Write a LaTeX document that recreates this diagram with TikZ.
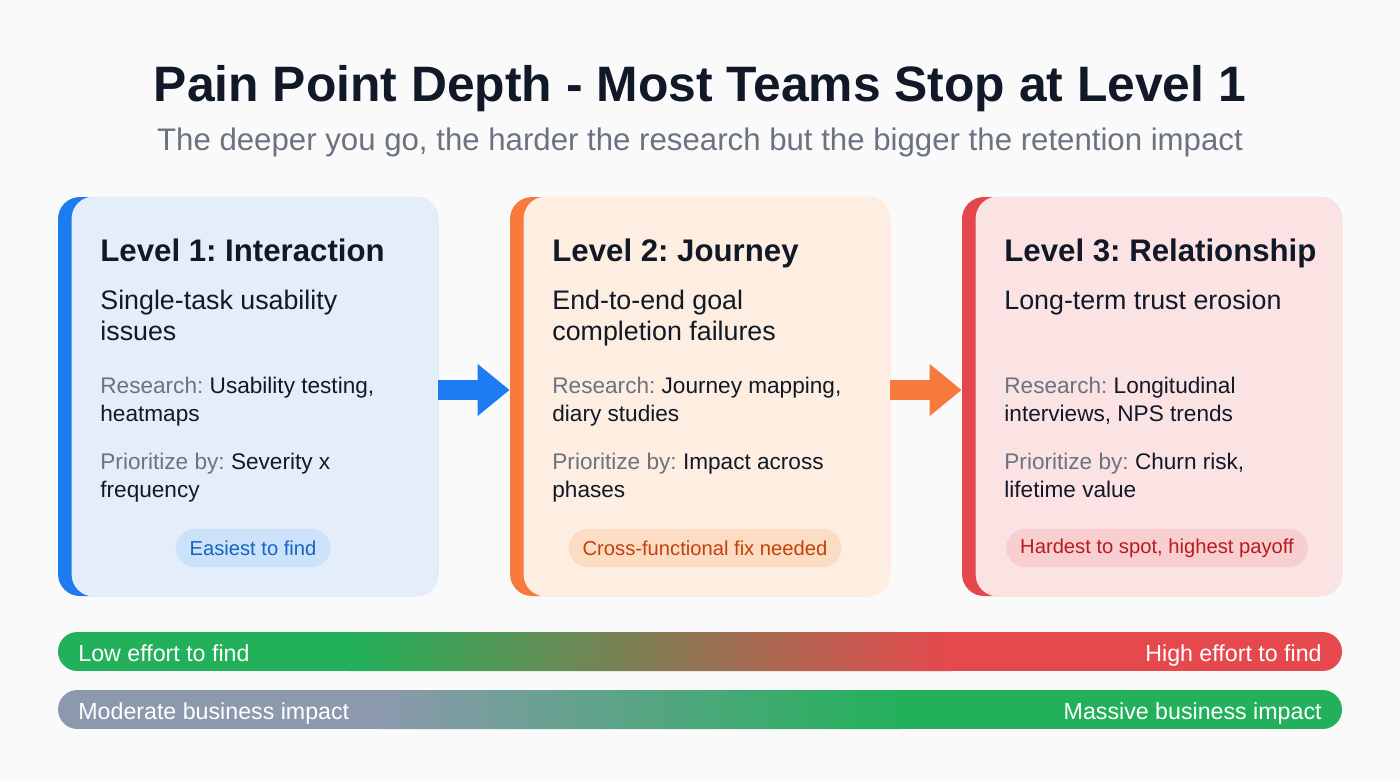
\documentclass[tikz,border=0pt]{standalone}
\usepackage{fontspec}
\setmainfont{Liberation Sans}
\usepackage{tikz}
\usetikzlibrary{arrows.meta, calc}
\frenchspacing

\definecolor{bg}{HTML}{FAFAFA}
\definecolor{ink}{HTML}{111827}
\definecolor{subgray}{HTML}{6B7280}
\definecolor{blueacc}{HTML}{1E7CF2}
\definecolor{bluecard}{HTML}{E4EEFB}
\definecolor{bluebadge}{HTML}{CCE1FA}
\definecolor{bluetext}{HTML}{1665C1}
\definecolor{orangeacc}{HTML}{F7793B}
\definecolor{orangecard}{HTML}{FDEEE1}
\definecolor{orangebadge}{HTML}{FCDCC3}
\definecolor{orangetext}{HTML}{C2410C}
\definecolor{redacc}{HTML}{E3464B}
\definecolor{redcard}{HTML}{FBE3E3}
\definecolor{redbadge}{HTML}{F8CED1}
\definecolor{redtext}{HTML}{B91C1C}
\definecolor{bargreen}{HTML}{22B15A}
\definecolor{barred}{HTML}{E5484D}
\definecolor{bargray}{HTML}{8C99AD}

\begin{document}
\begin{tikzpicture}[
    x=0.5pt, y=-0.5pt,
    >=Stealth,
    card/.style={rounded corners=11pt, minimum width=190pt, minimum height=199.5pt, inner sep=0pt},
    card title/.style={anchor=base west, inner sep=0pt, text=ink, font=\bfseries\fontsize{15.6}{19}\selectfont},
    card sub/.style={anchor=base west, inner sep=0pt, align=left, text=ink, font=\fontsize{13.4}{15.5}\selectfont},
    card body/.style={anchor=base west, inner sep=0pt, align=left, text=ink, font=\fontsize{11.3}{13.8}\selectfont},
    badge/.style={rounded corners=9.5pt, minimum height=19pt, inner xsep=7pt, inner ysep=0pt, font=\fontsize{10.1}{12}\selectfont},
    flow/.style={line width=10pt, -{Triangle[length=16pt, width=25pt]}},
    bar text/.style={text=white, inner sep=0pt, font=\fontsize{11.6}{14}\selectfont}
]

% Background
\fill[bg] (0,0) rectangle (1400,781);

% ==================== HEADER ====================
\node[anchor=base, text=ink, font=\bfseries\fontsize{24.9}{30}\selectfont] (title) at (700,102)
    {Pain Point Depth - Most Teams Stop at Level 1};
\node[anchor=base, text=subgray, font=\fontsize{15.6}{19}\selectfont] (subtitle) at (700,150)
    {The deeper you go, the harder the research but the bigger the retention impact};

% ==================== LEVEL 1 ====================
\begin{scope}[xshift=0pt]
    % Card
    \node[card, fill=blueacc] (lvl1) at (248,396.5) {};
    \fill[bluecard, rounded corners=11pt] ($(lvl1.south west)+(14,0)$) rectangle (lvl1.north east);

    % Texts (base = last line)
    \node[card title] (lvl1title) at (100,261) {Level 1: Interaction};
    \node[card sub] (lvl1sub) at (100,340) {Single-task usability\\issues};
    \node[card body] (lvl1res) at (100,421) {\textcolor{subgray}{Research:} Usability testing,\\heatmaps};
    \node[card body] (lvl1prio) at (100,497) {\textcolor{subgray}{Prioritize by:} Severity x\\frequency};

    % Badge
    \node[badge, fill=bluebadge, text=bluetext] (lvl1badge) at (253,548) {Easiest to find};
\end{scope}

% ==================== LEVEL 2 ====================
\begin{scope}[xshift=226pt]
    % Card
    \node[card, fill=orangeacc] (lvl2) at (248,396.5) {};
    \fill[orangecard, rounded corners=11pt] ($(lvl2.south west)+(14,0)$) rectangle (lvl2.north east);

    % Texts
    \node[card title] (lvl2title) at (100,261) {Level 2: Journey};
    \node[card sub] (lvl2sub) at (100,340) {End-to-end goal\\completion failures};
    \node[card body] (lvl2res) at (100,421) {\textcolor{subgray}{Research:} Journey mapping,\\diary studies};
    \node[card body] (lvl2prio) at (100,497) {\textcolor{subgray}{Prioritize by:} Impact across\\phases};

    % Badge
    \node[badge, fill=orangebadge, text=orangetext] (lvl2badge) at (253,548) {Cross-functional fix needed};
\end{scope}

% ==================== LEVEL 3 ====================
\begin{scope}[xshift=452pt]
    % Card
    \node[card, fill=redacc] (lvl3) at (248,396.5) {};
    \fill[redcard, rounded corners=11pt] ($(lvl3.south west)+(14,0)$) rectangle (lvl3.north east);

    % Texts
    \node[card title] (lvl3title) at (100,261) {Level 3: Relationship};
    \node[card sub] (lvl3sub) at (100,309) {Long-term trust erosion};
    \node[card body] (lvl3res) at (100,421) {\textcolor{subgray}{Research:} Longitudinal\\interviews, NPS trends};
    \node[card body] (lvl3prio) at (100,497) {\textcolor{subgray}{Prioritize by:} Churn risk,\\lifetime value};

    % Badge
    \node[badge, fill=redbadge, text=redtext] (lvl3badge) at (253,548) {Hardest to spot, highest payoff};
\end{scope}

% Arrows between levels
\draw[flow, blueacc] ([yshift=3.25pt]lvl1.east) -- ([yshift=3.25pt]lvl2.west);
\draw[flow, orangeacc] ([yshift=3.25pt]lvl2.east) -- ([yshift=3.25pt]lvl3.west);

% ==================== EFFORT BAR ====================
\begin{scope}
    \clip[rounded corners=9.75pt] (58,632) rectangle (1342,671);
    \fill[bargreen] (58,632) rectangle (351,671);
    \shade[left color=bargreen, right color=barred] (350,632) rectangle (951,671);
    \fill[barred] (950,632) rectangle (1342,671);
\end{scope}
\node[bar text, anchor=base west] (efflow) at (78,661) {Low effort to find};
\node[bar text, anchor=base east] (effhigh) at (1322,661) {High effort to find};

% ==================== IMPACT BAR ====================
\begin{scope}
    \clip[rounded corners=9.75pt] (58,690) rectangle (1342,729);
    \fill[bargray] (58,690) rectangle (381,729);
    \shade[left color=bargray, right color=bargreen] (380,690) rectangle (901,729);
    \fill[bargreen] (900,690) rectangle (1342,729);
\end{scope}
\node[bar text, anchor=base west] (implow) at (78,719) {Moderate business impact};
\node[bar text, anchor=base east] (imphigh) at (1322,719) {Massive business impact};

\end{tikzpicture}
\end{document}
